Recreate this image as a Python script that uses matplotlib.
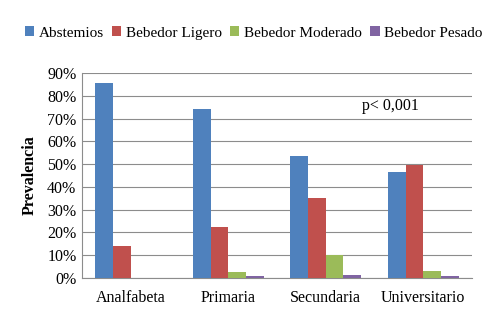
import matplotlib
matplotlib.use("Agg")
import matplotlib.pyplot as plt
import numpy as np
from matplotlib.ticker import PercentFormatter

categories = ["Analfabeta", "Primaria", "Secundaria", "Universitario"]
series_names = ["Abstemios", "Bebedor Ligero", "Bebedor Moderado", "Bebedor Pesado"]
abstemios = [85.7, 74.1, 53.7, 46.7]
ligero = [14.2, 22.3, 35.0, 49.6]
moderado = [0.0, 2.6, 10.0, 3.1]
pesado = [0.0, 0.9, 1.3, 0.7]
colors = ["#4F81BD", "#C0504D", "#9BBB59", "#8064A2"]

plt.rcParams['font.family'] = ['Liberation Serif', 'DejaVu Serif']

fig = plt.figure(figsize=(4.86, 3.15), dpi=100)
ax = fig.add_axes([82/486, 1-278/315, (472-82)/486, (278-73)/315])

x = np.arange(len(categories))
w = 0.182
data = [abstemios, ligero, moderado, pesado]
for i, (vals, name, c) in enumerate(zip(data, series_names, colors)):
    ax.bar(x + (i - 1.5) * w, vals, w, color=c, label=name, zorder=3)

ax.set_xlim(-0.5, len(categories) - 0.5)
ax.set_ylim(0, 90)
ax.set_yticks(np.arange(0, 91, 10))
ax.yaxis.set_major_formatter(PercentFormatter(decimals=0))
ax.set_xticks(x)
ax.set_xticklabels(categories)
ax.tick_params(axis='both', labelsize=11.5, length=0, colors='black')
ax.tick_params(axis='x', pad=9)
ax.tick_params(axis='y', pad=4)
ax.grid(axis='y', color='#8C8C8C', linewidth=0.8, zorder=0)
for s in ['top', 'right']:
    ax.spines[s].set_visible(False)
ax.spines['left'].set_color('#8C8C8C')
ax.spines['bottom'].set_color('#8C8C8C')
ax.set_ylabel("Prevalencia", fontsize=11.5, fontweight='bold', labelpad=7)
ax.text(0.718, 0.84, "p< 0,001", transform=ax.transAxes, fontsize=11.5, ha='left', va='center')

fig.legend(loc='center', bbox_to_anchor=(0.522, 1-33/315), ncol=4, frameon=False,
           fontsize=11, handlelength=0.6, handleheight=0.6, handletextpad=0.3,
           columnspacing=0.55)

fig.savefig("out.png", dpi=100)
